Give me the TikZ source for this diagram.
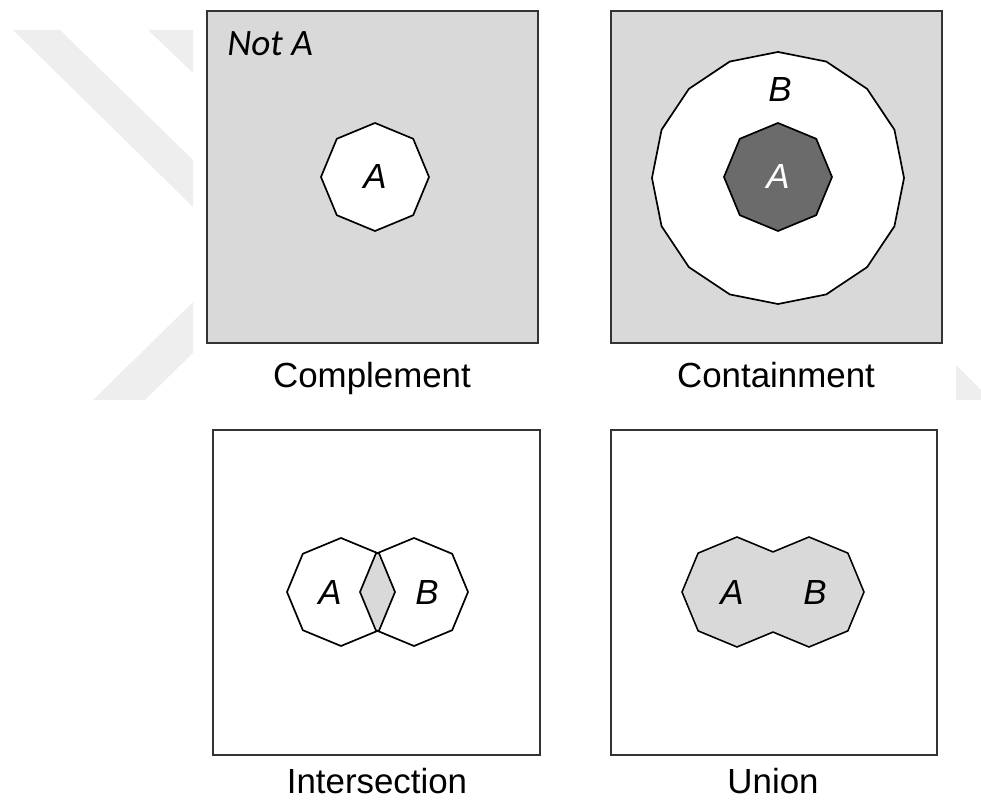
\documentclass[tikz,border=0pt]{standalone}
\usepackage{fontspec}
\setmainfont{Liberation Sans}
\newfontfamily\calfont{Carlito}
\usetikzlibrary{shapes.geometric}
\usetikzlibrary{calc}
\definecolor{boxgray}{RGB}{217,217,217}
\definecolor{darkset}{RGB}{107,107,107}
\definecolor{markgray}{RGB}{238,238,238}

\begin{document}
\begin{tikzpicture}[x=0.025cm, y=0.025cm,
                          setbox/.style={draw=black!80, line width=1.2pt},
                          octnode/.style={regular polygon, regular polygon sides=8, shape border rotate=22.5, minimum size=2.7cm, inner sep=0pt, outer sep=0pt, line width=1.2pt},
                          ringnode/.style={regular polygon, regular polygon sides=16, shape border rotate=11.25, minimum size=6.3cm, inner sep=0pt, outer sep=0pt, line width=1.2pt},
                          setlabel/.style={font=\fontsize{24.8}{30}\selectfont\itshape, inner sep=0pt},
                          caption/.style={font=\fontsize{24.8}{30}\selectfont, anchor=base, inner sep=0pt},
                      ]
                      \useasboundingbox (0,0) rectangle (981,800);

                      %Faint chevrons behind
                      \fill[markgray] (13,770) -- (60,770) -- (193,640) -- (193,593) -- cycle;
                      \fill[markgray] (148,770) -- (193,770) -- (193,727) -- cycle;
                      \fill[markgray] (93,400) -- (145,400) -- (193,447) -- (193,498) -- cycle;
                      \fill[markgray] (956,435) -- (956,400) -- (981,400) -- (981,410) -- cycle;

                      %Boxes
                      \draw[setbox, fill=boxgray] (207,457) rectangle (538,789);
                      \draw[setbox, fill=boxgray] (611,457) rectangle (942,789);
                      \draw[setbox] (213,45) rectangle (540,370);
                      \draw[setbox] (611,45) rectangle (937,370);

                      %Complement
                      \node[octnode, draw, fill=white, setlabel]   (ca)      at (375,623)   {A};
                      \node[anchor=base west, inner sep=0pt, font={\fontsize{26.5}{32}\calfont\itshape}] (nota) at (227,744) {Not A};

                      %Containment
                      \node[ringnode, draw, fill=white]            (cb)      at (778,622)   {};
                      \node[octnode, draw, fill=darkset, setlabel, text=white] (cin) at (778,623) {A};
                      \node[setlabel]                              (cblabel) at (780,710)   {B};

                      %Intersection
                      \node[octnode]                               (ia)      at (341,208)   {};
                      \node[octnode]                               (ib)      at (414,208)   {};
                      \fill[boxgray] (ia.east) -- ($(ia.45)!.5!(ib.135)$) -- (ib.west) -- ($(ia.-45)!.5!(ib.-135)$) -- cycle;
                      \node[octnode, draw]                         (iaedge)  at (ia)        {};
                      \node[octnode, draw]                         (ibedge)  at (ib)        {};
                      \node[setlabel]                              (ialabel) at (330,207)   {A};
                      \node[setlabel]                              (iblabel) at (427,207)   {B};

                      %Union
                      \node[octnode, draw, line width=2.4pt]       (ua)      at (737,208)   {};
                      \node[octnode, draw, line width=2.4pt]       (ub)      at (809,208)   {};
                      \node[octnode, fill=boxgray]                 (uafill)  at (ua)        {};
                      \node[octnode, fill=boxgray]                 (ubfill)  at (ub)        {};
                      \node[setlabel]                              (ualabel) at (732,207)   {A};
                      \node[setlabel]                              (ublabel) at (815,207)   {B};

                      %Captions
                      \node[caption] (compcap)  at (372,412) {Complement};
                      \node[caption] (contcap)  at (776,412) {Containment};
                      \node[caption] (intercap) at (377,6)   {Intersection};
                      \node[caption] (unioncap) at (773,6)   {Union};
                  \end{tikzpicture}
\end{document}
